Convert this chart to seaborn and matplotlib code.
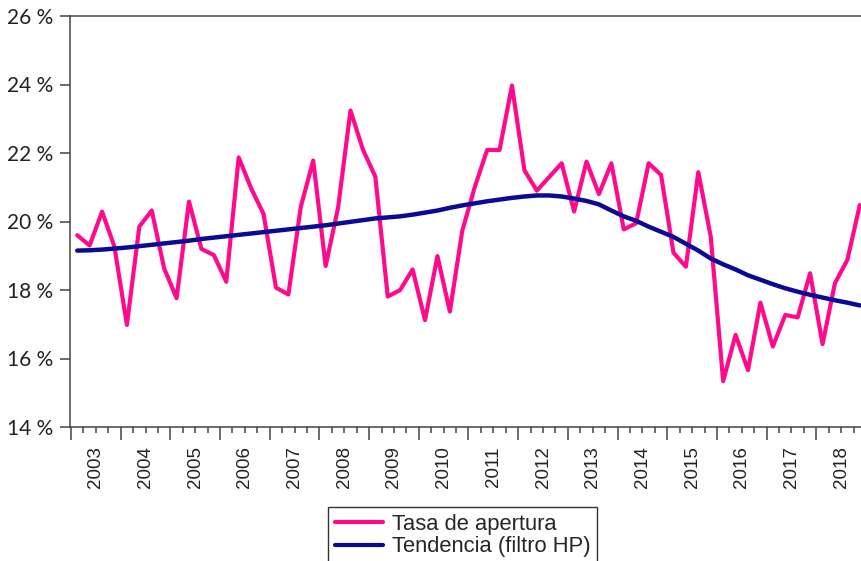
import numpy as np
import pandas as pd
import seaborn as sns
import matplotlib.pyplot as plt
from matplotlib.ticker import FixedLocator, FuncFormatter
from matplotlib.lines import Line2D

# datos trimestrales 2003T1 - 2018T4
years = list(range(2003, 2019))
quarters = [y + (q - 1) / 4 + 0.125 for y in years for q in range(1, 5)]

tasa_apertura = [
    19.60, 19.30, 20.29, 19.26, 16.98, 19.85, 20.32, 18.63,
    17.76, 20.58, 19.20, 19.02, 18.24, 21.87, 20.97, 20.22,
    18.07, 17.87, 20.43, 21.78, 18.70, 20.40, 23.24, 22.10,
    21.31, 17.81, 18.00, 18.60, 17.12, 18.99, 17.37, 19.73,
    21.00, 22.09, 22.09, 23.97, 21.50, 20.90, 21.30, 21.70,
    20.29, 21.75, 20.80, 21.70, 19.77, 19.95, 21.70, 21.36,
    19.09, 18.68, 21.44, 19.56, 15.34, 16.69, 15.66, 17.63,
    16.35, 17.27, 17.20, 18.49, 16.42, 18.20, 18.88, 20.48,
]

tendencia_hp = [
    19.15, 19.16, 19.18, 19.21, 19.24, 19.28, 19.32, 19.36,
    19.40, 19.44, 19.49, 19.53, 19.57, 19.61, 19.65, 19.69,
    19.73, 19.77, 19.81, 19.85, 19.89, 19.94, 19.99, 20.04,
    20.09, 20.12, 20.15, 20.20, 20.26, 20.32, 20.40, 20.47,
    20.53, 20.59, 20.64, 20.69, 20.73, 20.76, 20.76, 20.73,
    20.67, 20.60, 20.50, 20.32, 20.15, 20.02, 19.85, 19.70,
    19.55, 19.35, 19.15, 18.92, 18.75, 18.60, 18.43, 18.30,
    18.17, 18.05, 17.95, 17.86, 17.78, 17.70, 17.63, 17.55,
]

labels = ["Tasa de apertura", "Tendencia (filtro HP)"]
colores = ["#ff0a8c", "#0a0a96"]

df = pd.DataFrame({"fecha": quarters, "tasa": tasa_apertura, "hp": tendencia_hp})

sns.set_style("white")
plt.rcParams["font.family"] = ["Liberation Sans", "DejaVu Sans"]

fig = plt.figure(figsize=(8.62, 5.61), dpi=100)
# el eje derecho queda fuera de la imagen (recortado)
ax = fig.add_axes([70 / 862, 134 / 561, 796 / 862, 411 / 561])

sns.lineplot(data=df, x="fecha", y="tasa", ax=ax, color=colores[0], lw=3.0)
sns.lineplot(data=df, x="fecha", y="hp", ax=ax, color=colores[1], lw=3.2)

ax.set_xlim(2003 - 1 / 50, 2019)
ax.set_ylim(14, 26)
ax.set_xlabel("")
ax.set_ylabel("")

# eje y
ax.set_yticks(range(14, 27, 2))
ax.yaxis.set_major_formatter(FuncFormatter(lambda v, p: f"{int(v)} %"))
ax.tick_params(axis="y", direction="out", length=7, width=1.1, color="#444444",
               labelsize=15, pad=5, left=True)
for t in ax.get_yticklabels():
    t.set_fontfamily(["Lato", "DejaVu Sans"])
    t.set_color("#222222")

# eje x: ticks de año y de trimestre, etiquetas centradas en el año
ax.xaxis.set_major_locator(FixedLocator(years + [2019]))
ax.xaxis.set_minor_locator(FixedLocator([y + q / 4 for y in years for q in range(1, 4)]))
ax.set_xticklabels([])
ax.tick_params(axis="x", which="major", direction="out", length=9, width=1.1,
               color="#444444", bottom=True)
ax.tick_params(axis="x", which="minor", direction="out", length=4.5, width=1.1,
               color="#444444", bottom=True)
for y in years:
    ax.text(y + 0.5, -0.047, str(y), transform=ax.get_xaxis_transform(),
            rotation=90, ha="center", va="top", fontsize=13.5, color="#222222")

for s in ["left", "top", "bottom"]:
    ax.spines[s].set_color("#444444")
    ax.spines[s].set_linewidth(1.1)
ax.spines["right"].set_visible(False)

handles = [Line2D([], [], color=c, lw=3) for c in colores]
leg = fig.legend(handles, labels, loc="upper left",
                 bbox_to_anchor=(328 / 862, 1 - 507 / 561),
                 fontsize=15.8, frameon=True, fancybox=False, framealpha=1,
                 edgecolor="#333333", borderpad=0.3, labelspacing=0.08,
                 handlelength=2.2, handletextpad=0.4, borderaxespad=0)
leg.get_frame().set_linewidth(1.0)

fig.savefig("out.png", dpi=100)
